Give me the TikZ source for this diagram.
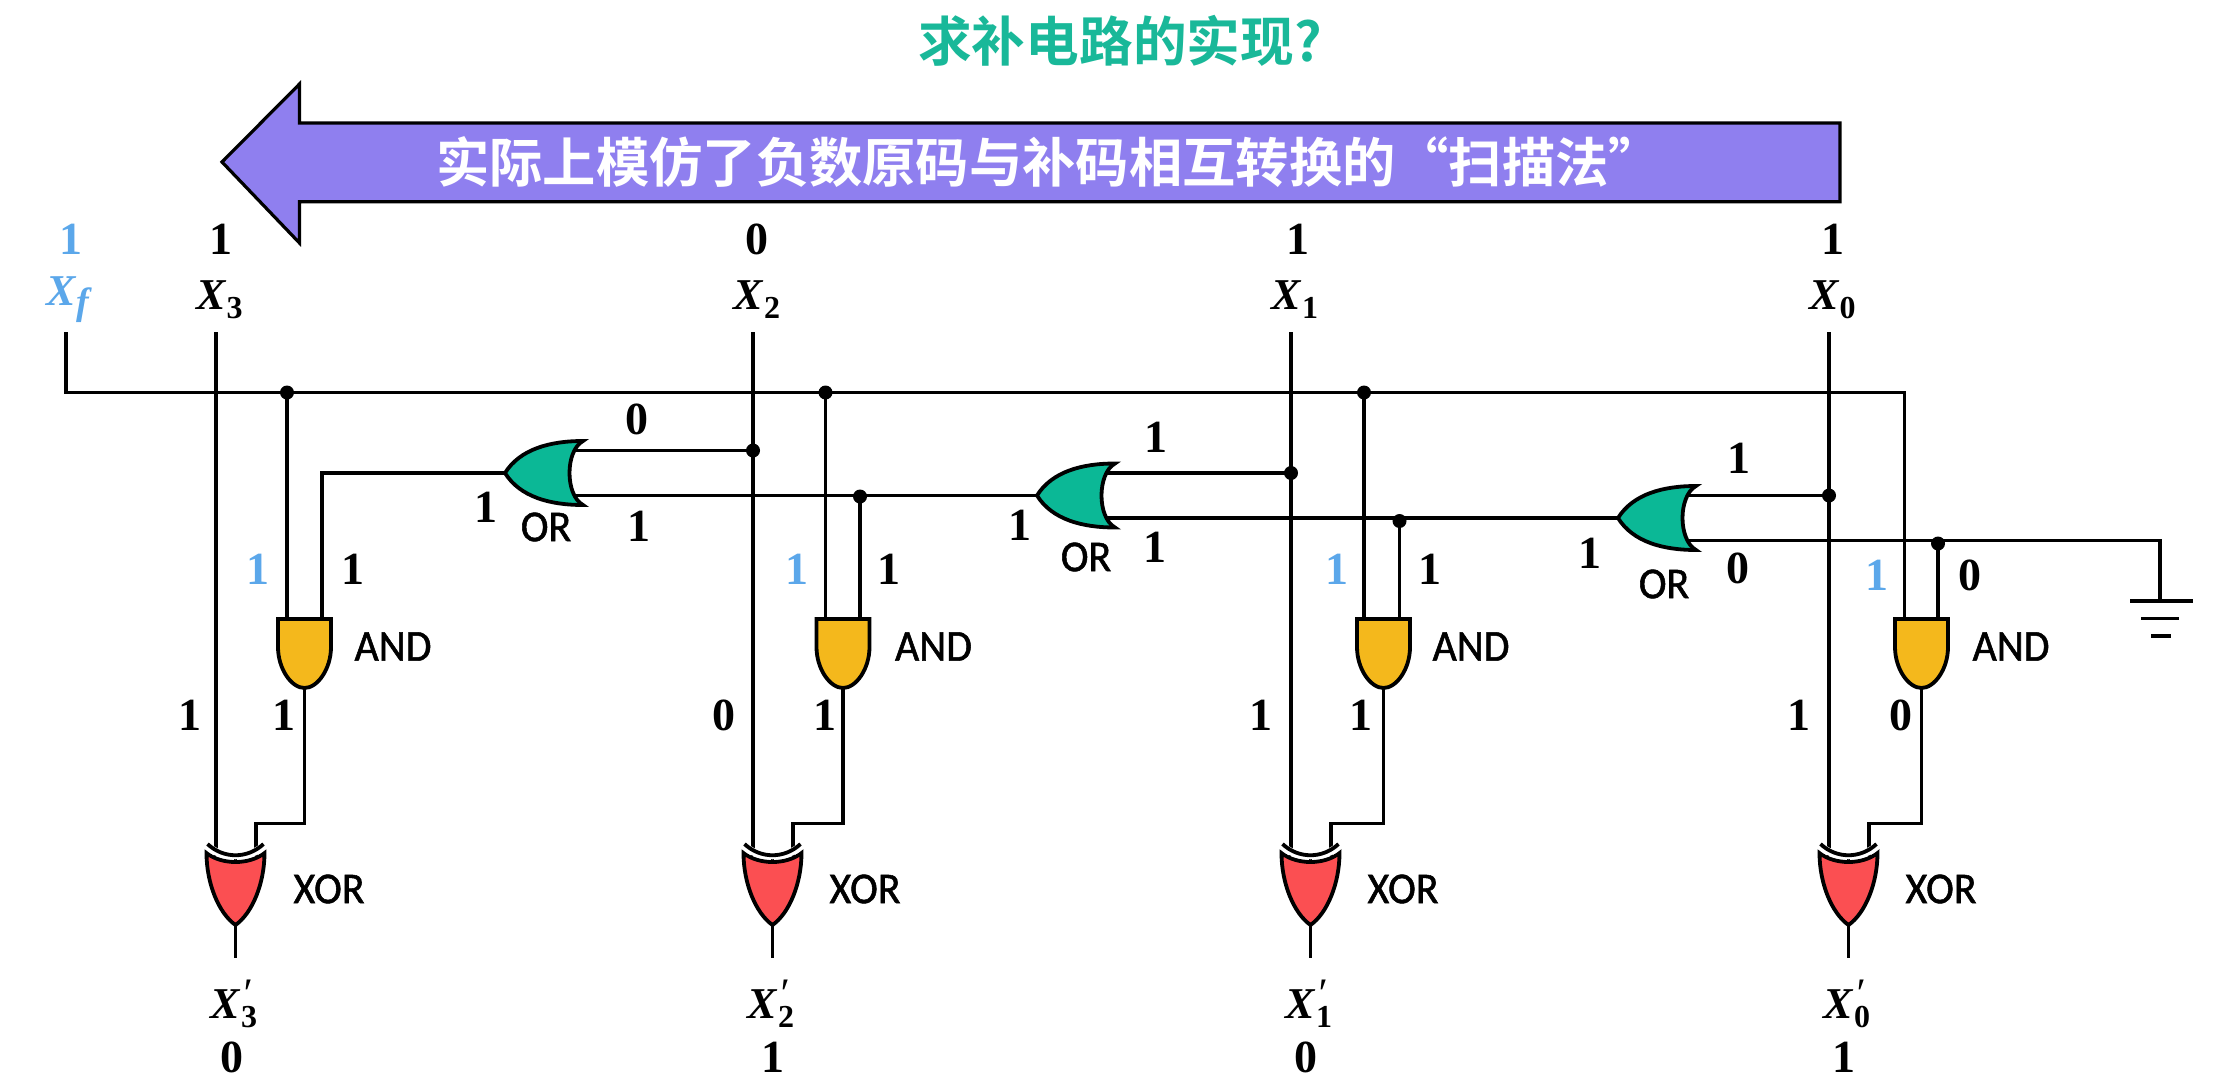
\documentclass[tikz,border=0pt]{standalone}
\usepackage{fontspec}
\usetikzlibrary{calc}
\setmainfont{Liberation Serif}
\newfontfamily\cjkfont{Noto Sans CJK SC}[BoldFont={Noto Sans CJK SC Bold}]
\newfontfamily\gatefont{Carlito}[FakeBold=1.2,FakeStretch=0.95]
\definecolor{teal}{HTML}{19B899}
\definecolor{orfill}{HTML}{0BB896}
\definecolor{andfill}{HTML}{F4B81C}
\definecolor{xorfill}{HTML}{FB4F52}
\definecolor{arrowfill}{HTML}{8F7FEF}
\definecolor{bluelbl}{HTML}{5BA7EA}
\newcommand\subsc[1]{\raisebox{-9pt}{\fontsize{32}{32}\selectfont\bfseries #1}}
\newcommand\varX[1]{\textbf{\textit{X}}\subsc{#1}}
\newcommand\varXp[1]{\textbf{\textit{X}}\rlap{\raisebox{11pt}{\fontsize{42}{42}\selectfont\itshape\char"2032}}\subsc{#1}}
\tikzset{
  wire/.style={line width=3.7pt,line join=miter,line cap=butt},
  bit/.style={font=\fontsize{46}{50}\selectfont\bfseries,inner sep=0pt,anchor=center},
  var/.style={font=\fontsize{44}{50}\selectfont,inner sep=0pt,anchor=center},
  gatelbl/.style={font=\fontsize{44}{46}\gatefont\selectfont,inner sep=0pt,anchor=center},
  dotnode/.style={circle,fill=black,inner sep=0pt,minimum size=14pt},
  gateline/.style={line width=3.8pt,line join=miter},
  pics/andgate/.style={code={
    \draw[gateline,fill=andfill] (-26.5,0) -- (26.5,0) -- (26.5,28) .. controls (26.5,50) and (13,69) .. (0,69) .. controls (-13,69) and (-26.5,50) .. (-26.5,28) -- cycle;
  }},
  pics/orgate/.style={code={
    \draw[gateline,fill=orfill,miter limit=6] (78,-32) .. controls (45,-32) and (15,-24) .. (0,0) .. controls (15,24) and (45,32) .. (78,32) .. controls (60,22) and (60,-22) .. (78,-32) -- cycle;
  }},
  pics/xorgate/.style={code={
    \draw[gateline,fill=xorfill,miter limit=6] (-29,0) .. controls (-14,12) and (14,12) .. (29,0) .. controls (29,30) and (17,60) .. (0,72) .. controls (-17,60) and (-29,30) .. (-29,0) -- cycle;
    \fill[white] (-27,-11) .. controls (-12,3) and (12,3) .. (27,-11) -- (28,-2) .. controls (14,9) and (-14,9) .. (-28,-2) -- cycle;
    \draw[gateline] (-28,-9) .. controls (-12,6) and (12,6) .. (28,-9);
  }}
}
\begin{document}
\begin{tikzpicture}[x=1pt,y=-1pt]
\useasboundingbox (0,0) rectangle (2225,1079);
% title and banner
\node[font=\fontsize{53.7}{60}\cjkfont\bfseries\selectfont,text=teal,inner sep=0pt,anchor=west] (title) at (918,41) {求补电路的实现?};
\draw[line width=3.2pt,fill=arrowfill,miter limit=4] (1840,123) -- (299.5,123) -- (299.5,84) -- (222,162) -- (299.5,243) -- (299.5,201.7) -- (1840,201.7) -- cycle;
\node[font=\fontsize{53.3}{60}\cjkfont\bfseries\selectfont,text=white,inner sep=0pt,anchor=west] (banner) at (436,162) {实际上模仿了负数原码与补码相互转换的“扫描法”};
% coordinates of the columns
\foreach \n/\xw/\al/\ar/\ac in {3/216/287/322/304.5,2/753/825.5/860/843,1/1291/1364/1399.5/1383.5,0/1829/1904.5/1938/1921.5}{
  \coordinate (T\n) at (\xw,332);
  \coordinate (XI\n) at (\xw,856);
  \coordinate (BD\n) at (\al,392.5);
  \coordinate (AL\n) at (\al,619);
  \coordinate (AR\n) at (\ar,619);
  \coordinate (AG\n) at (\ac,619);
  \coordinate (AO\n) at (\ac,688);
  \coordinate (S\n) at (\ac,823.5);
  \coordinate (XR\n) at ({\xw+40},823.5);
  \coordinate (XJ\n) at ({\xw+40},856);
  \coordinate (XG\n) at ({\xw+19.5},853);
  \coordinate (XO\n) at ({\xw+19.5},925);
  \coordinate (XE\n) at ({\xw+19.5},958);
}
% OR gates
\coordinate (OR2t) at (505,473);   \coordinate (OR2u) at (571,450.5); \coordinate (OR2l) at (571,495.5);
\coordinate (OR1t) at (1037,495.5);\coordinate (OR1u) at (1103,473);  \coordinate (OR1l) at (1103,518);
\coordinate (OR0t) at (1618,518);  \coordinate (OR0u) at (1684,495.5);\coordinate (OR0l) at (1684,540.5);
\coordinate (XD2) at (753,450.5);
\coordinate (XD1) at (1291,473);
\coordinate (XD0) at (1829,495.5);
\coordinate (J2) at (860,495.5);
\coordinate (J1) at (1399.5,518);
\coordinate (J0) at (1938,540.5);
\coordinate (XfT) at (66,332);
\coordinate (GT) at (2160,601);
\coordinate (G1a) at (2130,601);\coordinate (G1b) at (2192.5,601);
\coordinate (G2a) at (2141,618.5);\coordinate (G2b) at (2179,618.5);
\coordinate (G3a) at (2151,636);\coordinate (G3b) at (2171,636);
% wires
\draw[wire] (XfT) |- (BD0) -- (AL0);
\foreach \n in {3,2,1,0}{
  \draw[wire] (T\n) -- (XI\n);
  \draw[wire] (AO\n) -- (S\n) -- (XR\n) -- (XJ\n);
  \draw[wire] (XG\n) -- (XE\n);
}
\foreach \n in {3,2,1}{ \draw[wire] (BD\n) -- (AL\n); }
\draw[wire] (OR2t) -| (AR3);
\draw[wire] (OR2u) -- (XD2);
\draw[wire] (OR1u) -- (XD1);
\draw[wire] (OR0u) -- (XD0);
\draw[wire] (OR2l) -- (OR1t);
\draw[wire] (OR1l) -- (OR0t);
\draw[wire] (OR0l) -| (GT);
\draw[wire] (J2) -- (AR2);
\draw[wire] (J1) -- (AR1);
\draw[wire] (J0) -- (AR0);
% ground
\draw[wire] (G1a) -- (G1b);
\draw[wire] (G2a) -- (G2b);
\draw[wire] (G3a) -- (G3b);
% dots
\foreach \c/\nm in {BD3/d1,BD2/d2,BD1/d3,XD2/d5,XD1/d6,XD0/d7}{ \node[dotnode] (\nm) at (\c) {}; }
\node[dotnode] (d8) at ($(J2)+(0,1)$) {};
\node[dotnode] (d9) at ($(J1)+(0,3)$) {};
\node[dotnode] (d10) at ($(J0)+(0,3)$) {};
% gates
\foreach \n in {3,2,1,0}{
  \pic at (AG\n) {andgate};
  \pic at (XG\n) {xorgate};
}
\pic at (OR2t) {orgate};
\pic at (OR1t) {orgate};
\pic at (OR0t) {orgate};
% top labels
\node[bit,text=bluelbl] (vf) at (71,239) {1};
\node[var,text=bluelbl] (nf) at (68,300) {\textbf{\textit{X}}\raisebox{-9pt}{\fontsize{38}{38}\selectfont\bfseries\itshape f}};
\node[bit] (v3) at (221,239) {1};
\node[var] (n3) at (219.5,300) {\varX{3}};
\node[bit] (v2) at (757,239) {0};
\node[var] (n2) at (757,300) {\varX{2}};
\node[bit] (v1) at (1298,239) {1};
\node[var] (n1) at (1295,300) {\varX{1}};
\node[bit] (v0) at (1832.5,239) {1};
\node[var] (n0) at (1832.5,300) {\varX{0}};
% bottom labels
\node[var] (np3) at (234,1004) {\varXp{3}};
\node[bit] (vp3) at (232,1057) {0};
\node[var] (np2) at (771,1004) {\varXp{2}};
\node[bit] (vp2) at (772.5,1057) {1};
\node[var] (np1) at (1309,1004) {\varXp{1}};
\node[bit] (vp1) at (1306,1057) {0};
\node[var] (np0) at (1847,1004) {\varXp{0}};
\node[bit] (vp0) at (1844,1057) {1};
% column labels
\node[bit,text=bluelbl] (b3) at (258,569) {1};
\node[bit] (r3) at (352.5,569) {1};
\node[bit] (l3) at (190,715) {1};
\node[bit] (o3) at (284,715) {1};
\node[gatelbl] (a3) at (393,646.5) {AND};
\node[gatelbl] (x3) at (329,889) {XOR};
\node[bit,text=bluelbl] (b2) at (797,569) {1};
\node[bit] (r2) at (889,569) {1};
\node[bit] (l2) at (724,715) {0};
\node[bit] (o2) at (824.5,715) {1};
\node[gatelbl] (a2) at (933.5,646.5) {AND};
\node[gatelbl] (x2) at (865,889) {XOR};
\node[bit,text=bluelbl] (b1) at (1337,569) {1};
\node[bit] (r1) at (1430,569) {1};
\node[bit] (l1) at (1261,715) {1};
\node[bit] (o1) at (1361,715) {1};
\node[gatelbl] (a1) at (1471,646.5) {AND};
\node[gatelbl] (x1) at (1403,889) {XOR};
\node[bit,text=bluelbl] (b0) at (1877,575) {1};
\node[bit] (r0) at (1970,575) {0};
\node[bit] (l0) at (1799,715) {1};
\node[bit] (o0) at (1901,715) {0};
\node[gatelbl] (a0) at (2011,646.5) {AND};
\node[gatelbl] (x0) at (1941,889) {XOR};
% OR labels
\node[gatelbl] (ol2) at (546,527) {OR};
\node[bit] (oi2) at (486,507) {1};
\node[bit] (ou2) at (637,419) {0};
\node[bit] (od2) at (639,526) {1};
\node[gatelbl] (ol1) at (1086,557) {OR};
\node[bit] (oi1) at (1020,525) {1};
\node[bit] (ou1) at (1156,437) {1};
\node[bit] (od1) at (1155,547) {1};
\node[gatelbl] (ol0) at (1664,584) {OR};
\node[bit] (oi0) at (1590,553) {1};
\node[bit] (ou0) at (1739,458) {1};
\node[bit] (od0) at (1738,568) {0};
\end{tikzpicture}
\end{document}
